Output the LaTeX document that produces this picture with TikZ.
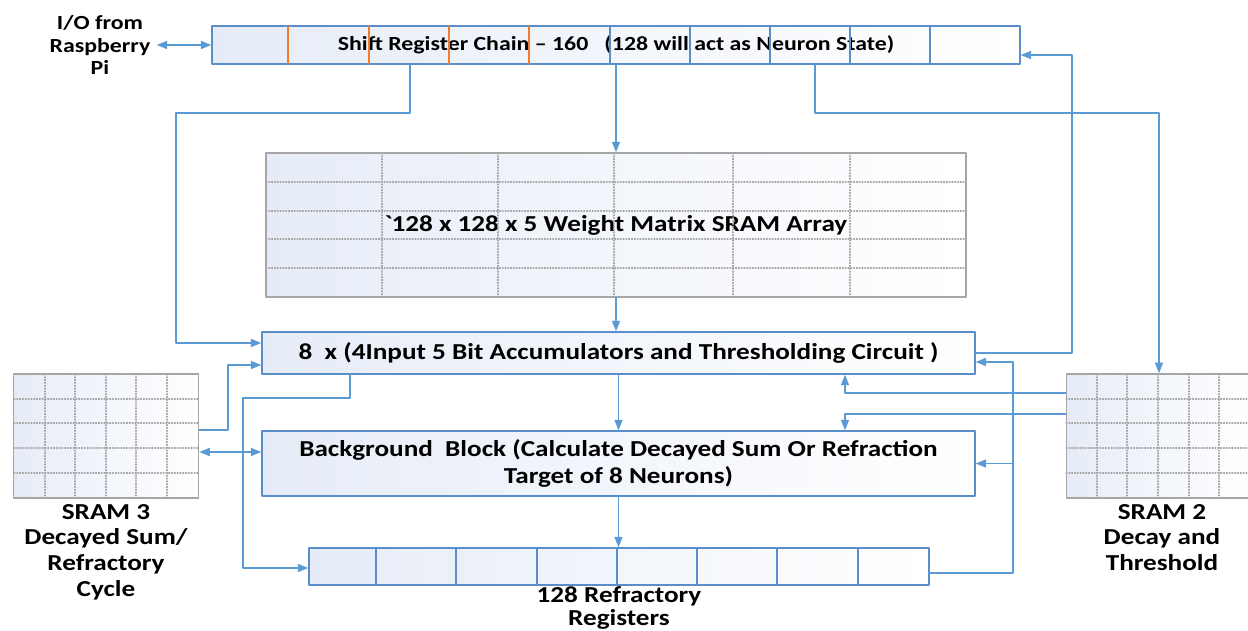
\documentclass[tikz,border=0pt]{standalone}
\usepackage{fontspec}
\setmainfont{Carlito}[FakeStretch=1.19]
\usetikzlibrary{arrows.meta, calc, positioning}

\definecolor{wireblue}{HTML}{5B9BD5}
\definecolor{boxblue}{HTML}{5A8ECB}
\definecolor{cellorange}{HTML}{ED7D31}
\definecolor{gridgray}{HTML}{A6A6A6}
\definecolor{paleblue}{HTML}{E6ECF7}

\begin{document}
\begin{tikzpicture}[line cap=round,line join=round,>={Triangle[length=6pt,width=4.6pt]},x=0.02cm,y=-0.02cm,
  wire/.style={draw=wireblue, line width=0.8pt},
  block/.style={draw=boxblue, line width=0.8pt, left color=paleblue, right color=white, inner sep=0pt,
    font=\fontsize{13}{15.5}\selectfont\bfseries, align=center},
  sram/.style={draw=gridgray, line width=0.9pt, left color=paleblue, right color=white,
    minimum width=3.7cm, minimum height=2.48cm},
  gridline/.style={gridgray, line width=0.6pt, densely dotted},
  tag/.style={font=\fontsize{13}{14.6}\selectfont\bfseries, align=center, inner sep=0pt}]
\useasboundingbox (0,0) rectangle (1248,631);

% blocks
\node[block, font=\fontsize{11.4}{13}\selectfont\bfseries, minimum width=16.16cm, minimum height=0.76cm] (shreg) at (616,45)
  {Shift Register Chain -- 160\ \ \ (128 will act as Neuron State)};
\node[block, draw=gridgray, minimum width=14cm, minimum height=2.88cm] (wmat) at (616,225)
  {\textasciigrave128 x 128 x 5 Weight Matrix SRAM Array};
\node[block, minimum width=14.26cm, minimum height=0.84cm] (accu) at (618.5,353)
  {8\ \ x (4Input 5 Bit Accumulators and Thresholding Circuit )};
\node[block, minimum width=14.26cm, minimum height=1.3cm] (bgblk) at (618.5,463.5)
  {Background\ \ Block (Calculate Decayed Sum Or Refraction\\Target of 8 Neurons)};
\node[block, minimum width=12.4cm, minimum height=0.74cm] (refr) at (619,566.5) {};
\node[sram] (sram3) at (106,436) {};
\node[sram] (sram2) at (1159,436) {};

% cells and grids
\foreach \cx in {288,369,449,529}
  \draw[cellorange, line width=0.8pt] (\cx,26) -- (\cx,64);
\foreach \cx in {610,690,770,850,930}
  \draw[boxblue, line width=0.8pt] (\cx,26) -- (\cx,64);
\foreach \cx in {376,456,537,617,697,777,858}
  \draw[boxblue, line width=0.8pt] (\cx,548) -- (\cx,585);
\foreach \cx in {382,498,614,733,850}
  \draw[gridline] (\cx,153) -- (\cx,297);
\foreach \ry in {182,211,239,268}
  \draw[gridline] (266,\ry) -- (966,\ry);
\foreach \cx in {45,75,106,136,167}
  \draw[gridline] (\cx,374) -- (\cx,498);
\foreach \cx in {1097,1127,1158,1189,1219}
  \draw[gridline] (\cx,374) -- (\cx,498);
\foreach \ry in {399,423,448,473} {
  \draw[gridline] (14,\ry) -- (198,\ry);
  \draw[gridline] (1066,\ry) -- (1252,\ry);
}

% labels
\node[tag, font=\fontsize{11.4}{13}\selectfont\bfseries] (io) at (100,45) {I/O from\\Raspberry\\Pi};
\node[tag, below=0.1cm of sram3] (sram3tag) {SRAM 3\\Decayed Sum/\\Refractory\\Cycle};
\node[tag, below=0.1cm of sram2, xshift=0.06cm] (sram2tag) {SRAM 2\\Decay and\\Threshold};
\node[tag, font=\fontsize{13}{13.2}\selectfont\bfseries, below=0.5pt of refr] (refrtag) {128 Refractory\\Registers};

% bends
\coordinate (a1) at (410,113);
\coordinate (a2) at (176,343);
\coordinate (a3) at (815,113);
\coordinate (a5) at (1072,55);
\coordinate (a6) at (228,430);
\coordinate (a7) at (228,365);
\coordinate (a8) at (0,452);
\coordinate (a9) at (350,398);
\coordinate (a10) at (243,568);
\coordinate (a11) at (1013,573);
\coordinate (a12) at (1013,362);
\coordinate (a13) at (845,393);
\coordinate (a14) at (845,414);

% connectors
\draw[wire,<->] ([xshift=0.12cm]io.east) -- (shreg.west);
\draw[wire,->] (shreg.south -| a1) -- (a1) -| (a2) -- (a2 -| accu.west);
\draw[wire,->] (shreg.south -| wmat.north) -- (wmat.north);
\draw[wire,->] (shreg.south -| a3) -- (a3) -| (sram2.north);
\draw[wire,->] (accu.east) -| (a5) -- (a5 -| shreg.east);
\draw[wire,->] (wmat.south) -- (wmat.south |- accu.north);
\draw[wire,->] (accu.south) -- (bgblk.north);
\draw[wire,->] (bgblk.south) -- (bgblk.south |- refr.north);
\draw[wire,->] (sram3.east |- a6) -- (a6) -- (a7) -- (a7 -| accu.west);
\draw[wire,<->] (sram3.east |- a8) -- (bgblk.west |- a8);
\draw[wire,->] (accu.south -| a9) -- (a9) -| (a10) -- (a10 -| refr.west);
\draw[wire,->] (refr.east |- a11) -- (a11) -- (a12) -- (a12 -| accu.east);
\draw[wire,->] (a11 |- bgblk.east) -- (bgblk.east);
\draw[wire,->] (sram2.west |- a13) -- (a13) -- (a13 |- accu.south);
\draw[wire,->] (sram2.west |- a14) -- (a14) -- (a14 |- bgblk.north);
\end{tikzpicture}
\end{document}
